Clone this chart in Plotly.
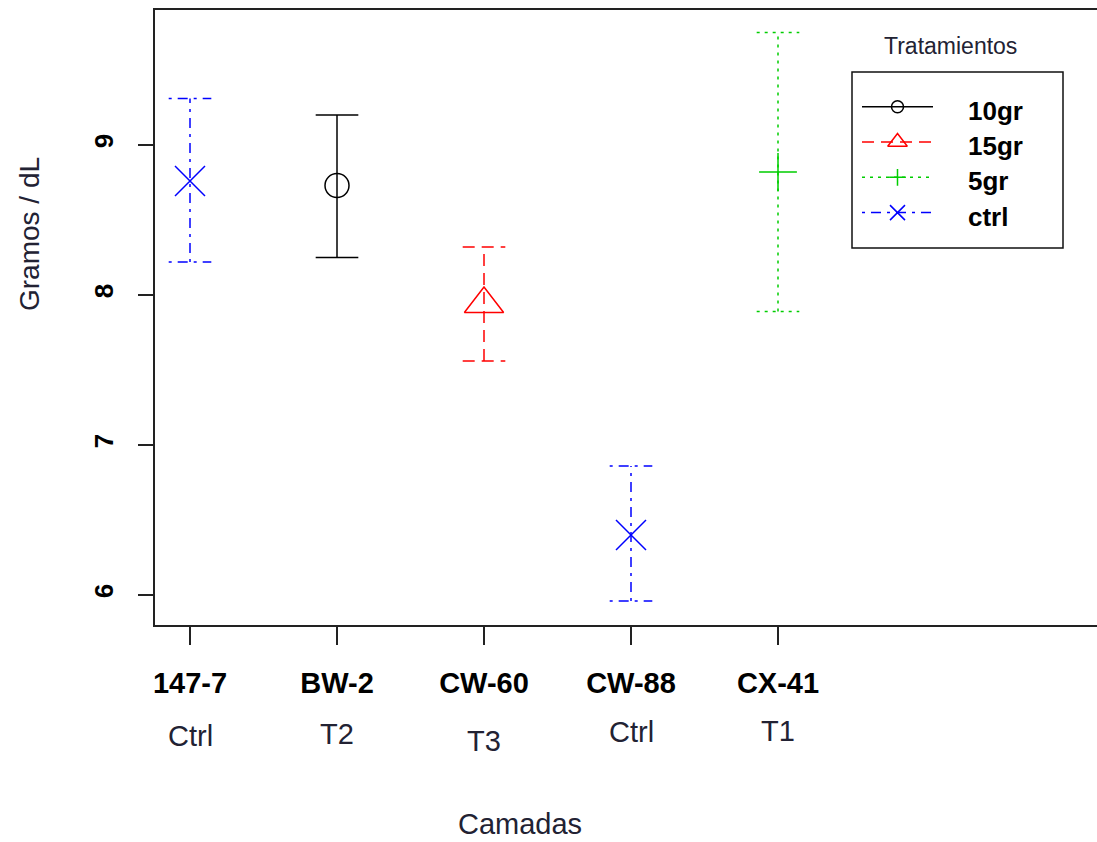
import plotly.graph_objects as go

# ---- datos ----
camadas = ["147-7", "BW-2", "CW-60", "CW-88", "CX-41"]
codigos = ["Ctrl", "T2", "T3", "Ctrl", "T1"]
tratamiento = ["ctrl", "10gr", "15gr", "ctrl", "5gr"]
media = [8.76, 8.73, 7.94, 6.40, 8.82]
limite_inf = [8.22, 8.25, 7.56, 5.96, 7.89]
limite_sup = [9.31, 9.20, 8.32, 6.86, 9.75]
niveles = ["10gr", "15gr", "5gr", "ctrl"]

# ---- estilos ----
estilo = {
    "10gr": dict(color="#000000", dash="solid", symbol="circle-open", size=24, lsize=12),
    "15gr": dict(color="#FF0000", dash="12px,7px", symbol="triangle-up-open", size=34, lsize=17),
    "5gr": dict(color="#00CD00", dash="3px,5px", symbol="cross-thin-open", size=27, lsize=12),
    "ctrl": dict(color="#0000FF", dash="3px,6px,10px,6px", symbol="x-thin-open", size=30, lsize=15),
}
TEXTO = "#222233"
FUENTE = "Liberation Sans, Arial, sans-serif"
CAP = 0.145  # semi-ancho de los topes de las barras (unidades del eje x)

W, H = 1097, 842
ML, MR, MT, MB = 155, 0, 10, 217
PW, PH = W - ML - MR, H - MT - MB


def px_x(px):
    return (px - ML) / PW


def px_y(py):
    return (H - MB - py) / PH


fig = go.Figure()
xs = list(range(1, len(camadas) + 1))

# barras de intervalo (línea vertical + topes), una traza por tratamiento
for nivel in niveles:
    st = estilo[nivel]
    bx, by = [], []
    for x, t, lo, hi in zip(xs, tratamiento, limite_inf, limite_sup):
        if t != nivel:
            continue
        bx += [x - CAP, x + CAP, None, x, x, None, x - CAP, x + CAP, None]
        by += [lo, lo, None, lo, hi, None, hi, hi, None]
    fig.add_trace(go.Scatter(
        x=bx, y=by, mode="lines", showlegend=False, hoverinfo="skip",
        line=dict(color=st["color"], width=1.5, dash=st["dash"]),
    ))

# medias
for nivel in niveles:
    st = estilo[nivel]
    px = [x for x, t in zip(xs, tratamiento) if t == nivel]
    py = [m for m, t in zip(media, tratamiento) if t == nivel]
    fig.add_trace(go.Scatter(
        x=px, y=py, mode="markers", showlegend=False, name=nivel,
        marker=dict(symbol=st["symbol"], size=st["size"], color=st["color"],
                    line=dict(color=st["color"], width=1.5)),
    ))

# ---- leyenda dibujada en un eje superpuesto en píxeles ----
LEG_BOX = (852, 72, 1063, 248)
LEG_LINE = (862, 933)
LEG_ROW0, LEG_DY = 106.7, 35.3
for i, nivel in enumerate(niveles):
    st = estilo[nivel]
    yrow = LEG_ROW0 + i * LEG_DY
    fig.add_trace(go.Scatter(
        x=[LEG_LINE[0], LEG_LINE[1]], y=[yrow, yrow], xaxis="x2", yaxis="y2",
        mode="lines", showlegend=False, hoverinfo="skip",
        line=dict(color=st["color"], width=1.5, dash=st["dash"]),
    ))
    fig.add_trace(go.Scatter(
        x=[(LEG_LINE[0] + LEG_LINE[1]) / 2], y=[yrow], xaxis="x2", yaxis="y2",
        mode="markers", showlegend=False, hoverinfo="skip", cliponaxis=False,
        marker=dict(symbol=st["symbol"], size=st["lsize"], color=st["color"],
                    line=dict(color=st["color"], width=1.5)),
    ))
    fig.add_annotation(
        x=966, y=yrow + 4, xref="x2", yref="y2", text=f"<b>{nivel}</b>",
        showarrow=False, xanchor="left", yanchor="middle",
        font=dict(family=FUENTE, size=26, color="#000000"),
    )

fig.add_shape(type="rect", xref="x2", yref="y2",
              x0=LEG_BOX[0], y0=LEG_BOX[1], x1=LEG_BOX[2], y1=LEG_BOX[3],
              line=dict(color="#111111", width=1.5), fillcolor="rgba(0,0,0,0)")
fig.add_annotation(
    x=950, y=46, xref="x2", yref="y2", text="Tratamientos", showarrow=False,
    xanchor="center", yanchor="middle",
    font=dict(family=FUENTE, size=23, color=TEXTO),
)

# segunda línea de etiquetas del eje x
codigo_dy = [111, 109, 116, 107, 106]
for x, c, dy in zip(xs, codigos, codigo_dy):
    fig.add_annotation(
        x=x, y=0, xref="x", yref="paper", yshift=-dy, text=c, showarrow=False,
        xanchor="center", yanchor="middle",
        font=dict(family=FUENTE, size=29, color=TEXTO),
    )

# títulos de ejes
fig.add_annotation(
    x=px_x(520), y=px_y(824), xref="paper", yref="paper", text="Camadas",
    showarrow=False, xanchor="center", yanchor="middle",
    font=dict(family=FUENTE, size=29, color=TEXTO),
)
fig.add_annotation(
    x=px_x(29), y=px_y(234), xref="paper", yref="paper", text="Gramos / dL",
    showarrow=False, xanchor="center", yanchor="middle", textangle=-90,
    font=dict(family=FUENTE, size=28, color=TEXTO),
)

fig.update_layout(
    width=W, height=H,
    margin=dict(l=ML, r=MR, t=MT, b=MB, pad=0),
    paper_bgcolor="white", plot_bgcolor="white",
    showlegend=False,
    xaxis=dict(
        range=[1 - 35 / 147, 1 + 907 / 147],
        tickvals=xs, ticktext=[f"<b>{c}</b>" for c in camadas],
        tickfont=dict(family=FUENTE, size=29, color="#000000"),
        ticks="outside", ticklen=18, tickwidth=1.5, tickcolor="#222222",
        ticklabelstandoff=13,
        showline=True, linecolor="#222222", linewidth=1.5, mirror=True,
        showgrid=False, zeroline=False,
    ),
    yaxis=dict(
        range=[5.8, 9.9],
        tickvals=[6, 7, 8, 9], ticktext=["<b>6</b>", "<b>7</b>", "<b>8</b>", "<b>9</b>"],
        tickangle=-90,
        tickfont=dict(family=FUENTE, size=26, color="#000000"),
        ticks="outside", ticklen=15, tickwidth=1.5, tickcolor="#222222",
        ticklabelstandoff=15,
        showline=True, linecolor="#222222", linewidth=1.5, mirror=False,
        showgrid=False, zeroline=False,
    ),
    xaxis2=dict(overlaying="x", range=[ML, W - MR], visible=False, fixedrange=True),
    yaxis2=dict(overlaying="y", range=[H - MB, MT], visible=False, fixedrange=True),
)

fig.write_html("out.html")
